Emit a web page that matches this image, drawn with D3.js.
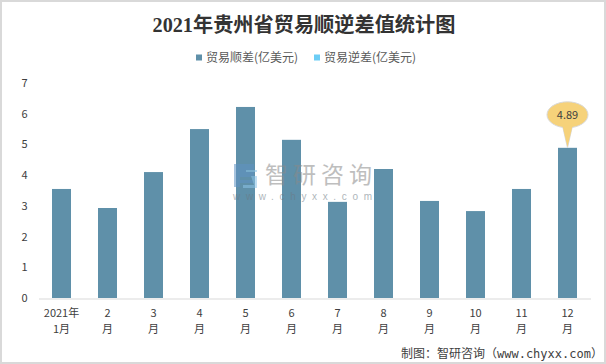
<!DOCTYPE html>
<html><head><meta charset="utf-8">
<script src="https://cdn.jsdelivr.net/npm/d3@7/dist/d3.min.js"></script>
<style>html,body{margin:0;padding:0;background:#fff}svg{display:block}</style></head>
<body><svg id="c" width="606" height="364"></svg>
<script>
const categories=[["2021年","1月"],["2","月"],["3","月"],["4","月"],["5","月"],["6","月"],["7","月"],["8","月"],["9","月"],["10","月"],["11","月"],["12","月"]];
const surplus=[3.55,2.93,4.1,5.5,6.22,5.15,3.13,4.2,3.16,2.83,3.55,4.89];
const yTicks=[0,1,2,3,4,5,6,7];
const legendNames=["贸易顺差(亿美元)","贸易逆差(亿美元)"];
const legendColors=["#5f90a9","#6ccdf5"];
const titleText="2021年贵州省贸易顺逆差值统计图";
const calloutValue="4.89";
const FONT="'Noto Sans CJK SC','Liberation Sans',sans-serif";
const svg=d3.select("#c");
svg.append("rect").attr("x",1).attr("y",1).attr("width",604).attr("height",362).attr("fill","#fff").attr("stroke","#d9d9d9").attr("stroke-width",2);
svg.append("text").attr("x",304).attr("y",32).attr("text-anchor","middle").attr("font-size",20.2).attr("font-weight",700)
  .attr("font-family","'Liberation Serif','Noto Sans CJK SC',serif").attr("fill","#333").text(titleText);
const x=d3.scaleBand().domain(d3.range(12)).range([38.5,590.5]).paddingInner(0.587).paddingOuter(0.2935);
const y=d3.scaleLinear().domain([0,7]).range([298,83]);
// legend
const lx=[196,314];
legendNames.forEach((n,i)=>{
  svg.append("rect").attr("x",lx[i]).attr("y",54.5).attr("width",6).attr("height",6).attr("fill",legendColors[i]);
  svg.append("text").attr("x",lx[i]+10).attr("y",62).attr("font-size",12).attr("font-family",FONT).attr("fill","#595959").text(n);
});
// bars
svg.selectAll("rect.bar").data(surplus).join("rect").attr("class","bar")
  .attr("x",(d,i)=>x(i)).attr("width",x.bandwidth()).attr("y",d=>y(d)).attr("height",d=>y(0)-y(d)).attr("fill",legendColors[0]);
// axes
const gy=svg.append("g").attr("transform","translate(38.5,0)").call(d3.axisLeft(y).tickValues(yTicks).tickSize(0).tickPadding(11).tickFormat(d3.format("d")));
gy.select(".domain").remove();
gy.selectAll("text").attr("font-size",11).attr("font-family",FONT).attr("fill","#404040");
const gx=svg.append("g").attr("transform","translate(0,298.5)").call(d3.axisBottom(d3.scaleBand().domain(d3.range(12)).range([38.5,590.5])).tickSize(0).tickFormat(""));
gx.select(".domain").attr("stroke","#d9d9d9").attr("stroke-width",1);
categories.forEach((c,i)=>{
  const cx=x(i)+x.bandwidth()/2;
  c.forEach((t,j)=>svg.append("text").attr("x",cx).attr("y",[317,333][j]).attr("text-anchor","middle").attr("font-size",11).attr("font-family",FONT).attr("fill","#404040").text(t));
});
// callout
const cx12=x(11)+x.bandwidth()/2, barTop=y(surplus[11]);
const cy=barTop-33;
svg.append("path").attr("d",d3.line()([[cx12-5,cy+11],[cx12,barTop],[cx12+5,cy+11]])).attr("fill","#f6d27a").attr("stroke","#d9d9d9");
svg.append("ellipse").attr("cx",cx12).attr("cy",cy).attr("rx",20.5).attr("ry",13).attr("fill","#f6d27a").attr("stroke","#d9d9d9");
svg.append("path").attr("d",d3.line()([[cx12-5,cy+11],[cx12,barTop-1],[cx12+5,cy+11]])).attr("fill","#f6d27a");
svg.append("text").attr("x",cx12).attr("y",cy+4).attr("text-anchor","middle").attr("font-size",11).attr("font-family",FONT).attr("fill","#404040").text(calloutValue);
// watermark
const wm=svg.append("g").attr("opacity",0.55);
wm.append("path").attr("d","M234 164h20v13h-14v3h14v3h-14v4h-6z").attr("fill","#5f93c4");
wm.append("path").attr("d","M246 170h11v2h-11zM251 176h6v12h-14v-3h11z").attr("fill","#8cc4e8");
wm.append("text").attr("x",265).attr("y",183).attr("font-size",23).attr("font-family",FONT).attr("fill","#8a8a8a").attr("letter-spacing",5).text("智研咨询");
wm.append("text").attr("x",233).attr("y",199.5).attr("font-size",10).attr("font-family","'Liberation Sans',sans-serif").attr("fill","#6d7a84").attr("textLength",139).attr("lengthAdjust","spacing").text("www.chyxx.com");
// source
svg.append("text").attr("x",401).attr("y",358).attr("font-size",12).attr("font-family","'DejaVu Sans Mono','Noto Sans CJK SC',monospace").attr("fill","#404040").text("制图：智研咨询（www.chyxx.com）");
</script></body></html>
